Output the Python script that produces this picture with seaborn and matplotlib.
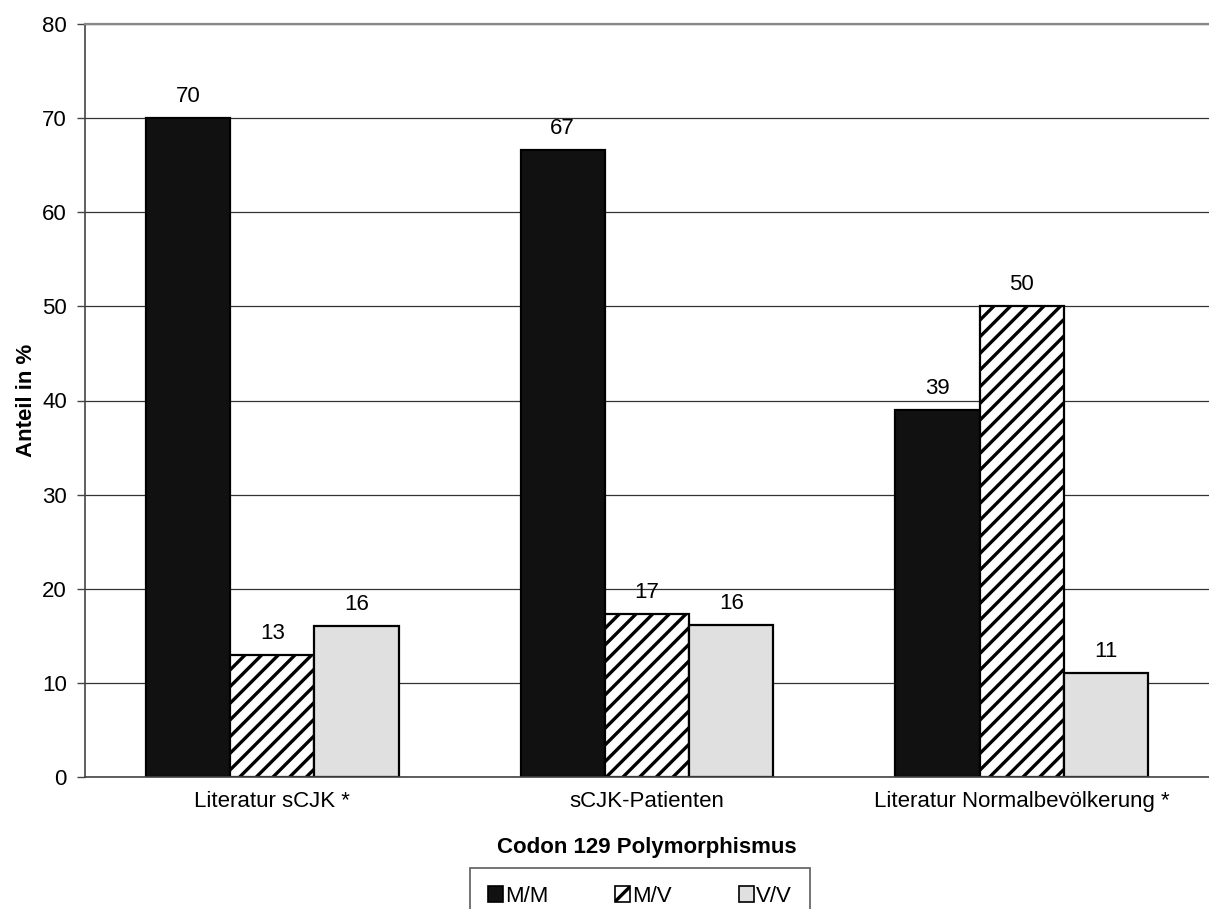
import pandas as pd
import matplotlib.pyplot as plt
import seaborn as sns
from matplotlib.patches import Patch

sns.set_style("white")
plt.rcParams['font.family'] = ['Liberation Sans', 'DejaVu Sans']
plt.rcParams['hatch.linewidth'] = 2.4
plt.rcParams['text.color'] = 'black'
plt.rcParams['axes.labelcolor'] = 'black'
plt.rcParams['xtick.color'] = 'black'
plt.rcParams['ytick.color'] = 'black'

# Data
categories = ["Literatur sCJK *", "sCJK-Patienten", "Literatur Normalbevölkerung *"]
genotypes = ["M/M", "M/V", "V/V"]
mm_values = [70, 66.6, 39]
mv_values = [13, 17.3, 50]
vv_values = [16, 16.1, 11]
yticks = [0, 10, 20, 30, 40, 50, 60, 70, 80]

rows = []
for i, cat in enumerate(categories):
    for g, vals in zip(genotypes, [mm_values, mv_values, vv_values]):
        rows.append({"Gruppe": cat, "Genotyp": g, "Anteil": vals[i]})
df = pd.DataFrame(rows)

colors = {"M/M": "#111111", "M/V": "white", "V/V": "#e0e0e0"}
hatches = {"M/M": "", "M/V": "//", "V/V": ""}
fs = 16

fig = plt.figure(figsize=(12.09, 9.09), dpi=100)
ax = fig.add_axes([85 / 1209, 1 - 777 / 909, 1 - 85 / 1209, (777 - 24) / 909])

sns.barplot(data=df, x="Gruppe", y="Anteil", hue="Genotyp", order=categories,
            hue_order=genotypes, palette=colors, width=0.675, gap=0,
            edgecolor="black", linewidth=1.6, legend=False, ax=ax)

for cont, g in zip(ax.containers, genotypes):
    for bar in cont:
        bar.set_hatch(hatches[g])
    ax.bar_label(cont, labels=[f"{v:.0f}" for v in cont.datavalues],
                 padding=8, fontsize=fs)

ax.set_ylim(0, 80)
ax.set_xlim(-0.5, 2.5)
ax.set_yticks(yticks)
ax.yaxis.grid(True, color="#333333", linewidth=0.9)
ax.set_axisbelow(True)

ax.set_xticks([-0.5, 0.5, 1.5, 2.5], minor=True)
ax.tick_params(axis="x", which="major", length=0, labelsize=fs, pad=10)
ax.tick_params(axis="x", which="minor", length=6, width=1, color="#444444", direction="out")
ax.tick_params(axis="y", length=6, width=1, color="#444444", direction="out", labelsize=fs, pad=7)
ax.tick_params(left=True, bottom=True)

for s in ["left", "bottom"]:
    ax.spines[s].set_color("#444444")
    ax.spines[s].set_linewidth(1.2)
ax.spines["right"].set_visible(False)
ax.spines["top"].set_color("#888888")
ax.spines["top"].set_linewidth(1.6)

ax.set_xlabel("Codon 129 Polymorphismus", fontsize=fs, fontweight="bold", labelpad=18)
ax.set_ylabel("Anteil in %", fontsize=fs, fontweight="bold", labelpad=4)

handles = [Patch(facecolor=colors[g], edgecolor="black", hatch=hatches[g], linewidth=1.2)
           for g in genotypes]
leg = fig.legend(handles, genotypes, loc="upper center", bbox_to_anchor=(640 / 1209, 1 - 868 / 909),
                 ncol=3, fontsize=fs, frameon=True, fancybox=False, handlelength=0.68,
                 handleheight=0.68, handletextpad=0.1, columnspacing=3.0,
                 borderpad=0.8, borderaxespad=0)
leg.get_frame().set_edgecolor("#333333")
leg.get_frame().set_linewidth(1.2)

fig.savefig("out.png", dpi=100)
